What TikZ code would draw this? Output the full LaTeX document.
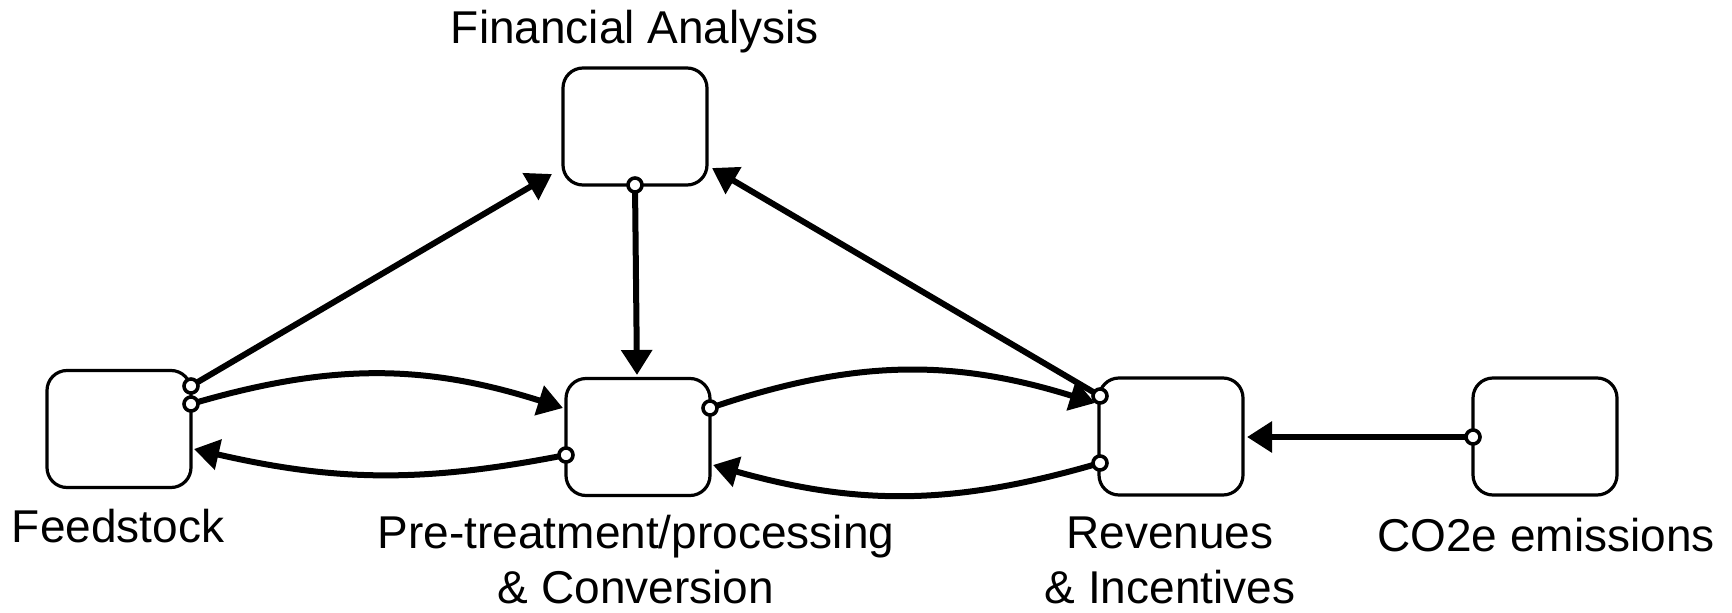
\documentclass[tikz,border=0pt]{standalone}
\usepackage{fontspec}
\setmainfont{Liberation Sans}
\usetikzlibrary{arrows.meta}
\pgfdeclarelayer{back}
\pgfdeclarelayer{links}
\pgfsetlayers{back,links,main}
\begin{document}
\begin{tikzpicture}[x=1pt,y=-1pt,
  box/.style={draw, line width=3.2pt, rounded corners=20pt, minimum width=144pt, minimum height=117pt, inner sep=0pt},
  port/.style={circle, draw, line width=3.6pt, fill=white, minimum size=14pt, inner sep=0pt},
  link/.style={line width=6pt, -{Triangle[length=25pt,width=30pt]}},
  lbl/.style={font=\fontsize{46}{55}\selectfont, inner sep=0pt, anchor=base, align=center}]
\begin{pgfonlayer}{back}
\fill[white] (0,0) rectangle (1732,613);
\end{pgfonlayer}
\useasboundingbox (0,0) rectangle (1732,613);

% boxes
\node[box] (fs) at (119,429) {};
\node[box] (fa) at (635,126.5) {};
\node[box] (pt) at (638,437) {};
\node[box] (rv) at (1171,436.5) {};
\node[box] (co) at (1545,436.5) {};

% ports
\node[port] (fsA) at (191,386) {};
\node[port] (fsB) at (191,404) {};
\node[port] (faP) at (635,185) {};
\node[port] (ptR) at (710,408) {};
\node[port] (ptL) at (566,455) {};
\node[port] (rvA) at (1100,396) {};
\node[port] (rvB) at (1100,463) {};
\node[port] (coP) at (1473,437) {};

% arrow targets
\coordinate (faL) at (552,174);
\coordinate (faR) at (712,168);
\coordinate (ptT) at (637,375);
\coordinate (ptW) at (563,408);
\coordinate (fsE) at (194,449);
\coordinate (rvW) at (1095,403);
\coordinate (ptE) at (713,465);
\coordinate (rvE) at (1247,437);

\begin{pgfonlayer}{links}
\draw[link] (fsA.center) -- (faL);
\draw[link] (faP.center) -- (ptT);
\draw[link] (rvA.center) -- (faR);
\draw[link] (fsB.center) to[bend left=17] (ptW);
\draw[link] (ptL.center) to[bend left=12] (fsE);
\draw[link] (ptR.center) to[bend left=18] (rvW);
\draw[link] (rvB.center) to[bend left=16] (ptE);
\draw[link] (coP.center) -- (rvE);
\end{pgfonlayer}

% labels
\node[lbl] (tFA) at (635,43) {Financial Analysis};
\node[lbl] (tFS) at (118,542) {Feedstock};
\node[lbl] (tPT) at (636,603) {Pre-treatment/processing\\\& Conversion};
\node[lbl] (tRV) at (1170,603) {Revenues\\\& Incentives};
\node[lbl] (tCO) at (1546,551) {CO2e emissions};
\end{tikzpicture}
\end{document}
